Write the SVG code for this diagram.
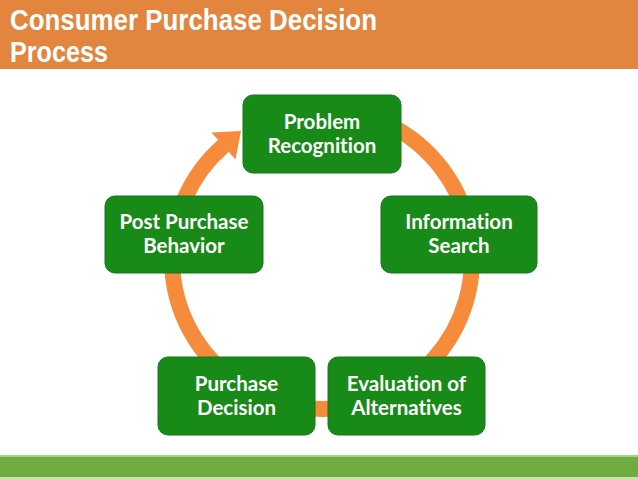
<svg xmlns="http://www.w3.org/2000/svg" width="638" height="479" viewBox="0 0 638 479">
  <defs>
    <style>
      .title { font-family: "Liberation Sans", Arial, sans-serif; font-weight: bold; font-size: 29px; fill: #ffffff; }
      .box { fill: #188A18; stroke: #14781A; stroke-width: 1; }
      .lbl { font-family: Lato, "Open Sans", sans-serif; font-weight: bold; font-size: 20.5px; fill: #ffffff; text-anchor: middle; font-variant-ligatures: none; }
      .ring { fill: none; stroke: #F58B3B; stroke-width: 16; }
    </style>
  </defs>
  <rect x="0" y="0" width="638" height="479" fill="#ffffff"/>
  <g id="title-bar">
    <rect x="0" y="0" width="638" height="69" fill="#E2863F"/>
    <text class="title" x="10" y="30" textLength="367" lengthAdjust="spacingAndGlyphs">Consumer Purchase Decision</text>
    <text class="title" x="10" y="62" textLength="98" lengthAdjust="spacingAndGlyphs">Process</text>
  </g>
  <g id="footer-band">
    <rect x="0" y="455" width="638" height="23" fill="#70AB40"/>
    <rect x="0" y="455" width="638" height="2" fill="#A8CF8A"/>
    <rect x="0" y="477" width="638" height="2" fill="#C9E2B6"/>
  </g>
  <g id="connectors">
    <path class="ring" d="M 322 109 A 150 150 0 1 1 223.6 145.8"/>
    <polygon points="211.5,132.5 235.5,159.5 241,131" fill="#F58B3B"/>
  </g>
  <g id="problem-recognition">
    <rect class="box" x="243" y="95" width="158" height="78" rx="10"/>
    <text class="lbl" x="322" y="129">Problem</text>
    <text class="lbl" x="322" y="153">Recognition</text>
  </g>
  <g id="information-search">
    <rect class="box" x="381" y="196" width="156" height="77" rx="10"/>
    <text class="lbl" x="459" y="229">Information</text>
    <text class="lbl" x="459" y="253">Search</text>
  </g>
  <g id="evaluation-of-alternatives">
    <rect class="box" x="328" y="357" width="157" height="78" rx="10"/>
    <text class="lbl" x="406.5" y="391">Evaluation of</text>
    <text class="lbl" x="406.5" y="415">Alternatives</text>
  </g>
  <g id="purchase-decision">
    <rect class="box" x="158" y="357" width="157" height="78" rx="10"/>
    <text class="lbl" x="236.5" y="391">Purchase</text>
    <text class="lbl" x="236.5" y="415">Decision</text>
  </g>
  <g id="post-purchase-behavior">
    <rect class="box" x="105" y="196" width="158" height="77" rx="10"/>
    <text class="lbl" x="184" y="229">Post Purchase</text>
    <text class="lbl" x="184" y="253">Behavior</text>
  </g>
</svg>
